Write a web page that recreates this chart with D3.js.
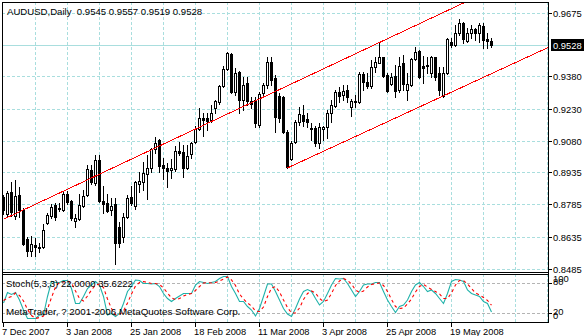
<!DOCTYPE html>
<html><head><meta charset="utf-8">
<script src="https://cdn.jsdelivr.net/npm/d3@7/dist/d3.min.js"></script>
<style>
html,body{margin:0;padding:0;background:#fff;}
svg{display:block;}
text{font-family:"Liberation Sans",Arial,sans-serif;fill:#000;white-space:pre;}
</style></head><body><svg id="c" width="584" height="336"></svg>
<script>
// ---- data ----
const symbolTitle = "AUDUSD,Daily  0.9545 0.9557 0.9519 0.9528";
const stochTitle = "Stoch(5,3,3) 22.0000 35.6222";
const copyright = "MetaTrader, ? 2001-2006 MetaQuotes Software Corp.";

const openP = [.8820,.8741,.8843,.8731,.8829,.8759,.8624,.8569,.8596,.8582,.8587,.8699,.8731,.8782,.8769,.8759,.8834,.8801,.8708,.8717,
.8778,.8829,.8945,.8885,.8992,.8801,.8792,.8759,.8787,.8680,.8634,.8727,.8820,.8778,.8880,.8889,.8927,.8955,.9043,.9085,
.8969,.8955,.8945,.8950,.9034,.9029,.8955,.9020,.9075,.9136,.9187,.9187,.9178,.9234,.9262,.9336,.9415,.9485,.9308,.9401,
.9271,.9350,.9266,.9271,.9155,.9303,.9341,.9448,.9373,.9289,.9285,.9122,.8996,.9075,.9168,.9201,.9182,.9141,.9141,.9071,
.9136,.9145,.9210,.9243,.9308,.9294,.9317,.9238,.9266,.9262,.9392,.9355,.9336,.9424,.9443,.9471,.9387,.9345,.9382,.9317,
.9443,.9317,.9341,.9462,.9499,.9429,.9429,.9396,.9471,.9396,.9289,.9396,.9541,.9527,.9582,.9629,.9545,.9582,.9601,.9582,
.9615,.9555,.9545];
const highP = [.8829,.8848,.8889,.8899,.8866,.8769,.8634,.8638,.8629,.8606,.8694,.8745,.8787,.8792,.8792,.8848,.8848,.8806,.8741,.8834,
.8852,.8969,.8969,.9015,.9015,.8871,.8834,.8815,.8815,.8703,.8745,.8829,.8871,.8894,.8936,.8982,.9015,.9048,.9099,.9089,
.9001,.8978,.8996,.9057,.9075,.9062,.9062,.9075,.9150,.9234,.9210,.9210,.9248,.9271,.9341,.9429,.9494,.9489,.9420,.9406,
.9378,.9378,.9285,.9285,.9308,.9350,.9471,.9471,.9387,.9303,.9289,.9131,.9080,.9178,.9238,.9248,.9210,.9164,.9150,.9164,
.9150,.9224,.9271,.9317,.9331,.9341,.9341,.9275,.9294,.9401,.9401,.9396,.9457,.9471,.9538,.9471,.9396,.9396,.9434,.9471,
.9480,.9396,.9466,.9517,.9503,.9475,.9471,.9475,.9471,.9424,.9424,.9559,.9559,.9620,.9648,.9634,.9606,.9620,.9606,.9629,
.9629,.9582,.9557];
const lowP = [.8741,.8727,.8731,.8717,.8727,.8596,.8545,.8545,.8545,.8564,.8582,.8694,.8722,.8713,.8755,.8755,.8787,.8713,.8680,.8713,
.8773,.8824,.8880,.8876,.8796,.8745,.8750,.8736,.8508,.8587,.8610,.8722,.8782,.8764,.8843,.8852,.8810,.8936,.9024,.8936,
.8903,.8866,.8908,.8941,.9015,.8913,.8950,.9001,.9071,.9131,.9103,.9131,.9168,.9210,.9252,.9331,.9410,.9303,.9294,.9210,
.9224,.9248,.9234,.9145,.9145,.9294,.9327,.9341,.9122,.9168,.9117,.8955,.8992,.9071,.9155,.9150,.9145,.9085,.9057,.9048,
.9085,.9094,.9168,.9238,.9262,.9271,.9262,.9196,.9238,.9257,.9317,.9327,.9327,.9401,.9443,.9378,.9308,.9341,.9285,.9308,
.9317,.9271,.9336,.9457,.9373,.9350,.9396,.9378,.9364,.9294,.9285,.9392,.9517,.9522,.9573,.9536,.9541,.9559,.9550,.9541,
.9513,.9513,.9519];
const closeP = [.8759,.8838,.8750,.8824,.8759,.8601,.8569,.8601,.8587,.8587,.8666,.8736,.8773,.8727,.8764,.8834,.8796,.8722,.8722,.8782,
.8824,.8950,.8889,.8992,.8801,.8787,.8755,.8778,.8606,.8606,.8727,.8815,.8792,.8889,.8894,.8931,.8955,.9043,.9071,.8964,
.8955,.8941,.8955,.9034,.9024,.8955,.9010,.9071,.9136,.9187,.9178,.9173,.9210,.9266,.9336,.9415,.9489,.9308,.9396,.9271,
.9341,.9266,.9252,.9164,.9299,.9341,.9448,.9364,.9192,.9187,.9122,.8959,.9071,.9168,.9206,.9173,.9168,.9136,.9071,.9145,
.9145,.9210,.9248,.9308,.9289,.9313,.9285,.9266,.9262,.9392,.9355,.9336,.9424,.9448,.9471,.9382,.9313,.9378,.9313,.9429,
.9345,.9345,.9462,.9494,.9378,.9420,.9434,.9471,.9378,.9317,.9396,.9555,.9527,.9582,.9629,.9555,.9582,.9601,.9582,.9620,
.9550,.9545,.9528];

const stochK = [40,61,57,61,46,26,9,9,9,16,16,53,83,81,81,85,85,69,39,39,
53,69,76,83,76,53,16,19,13,19,39,63,73,86,85,79,79,78,79,73,
59,49,43,49,54,59,59,59,76,83,81,79,81,83,89,93,93,73,59,43,
43,33,26,14,29,53,78,78,63,46,29,18,13,29,48,63,67,63,49,36,
43,59,76,89,88,89,79,66,53,63,76,78,78,81,81,63,46,33,21,33,
36,46,63,76,81,73,63,66,59,49,39,59,83,87,86,83,66,59,56,53,
43,39,22];
const stochD = [45,50,53,60,55,44,27,15,9,11,14,28,51,72,82,82,84,80,64,49,
44,54,66,76,78,71,48,29,16,17,24,40,58,74,81,83,81,79,79,77,
70,60,50,47,49,54,57,59,65,73,80,81,80,81,84,88,92,86,75,58,
48,40,34,24,23,32,53,70,73,62,46,31,20,20,30,47,59,64,60,49,
43,46,59,75,84,89,85,78,66,61,64,72,77,79,80,75,63,47,33,29,
30,38,48,62,73,77,72,67,63,58,49,49,60,76,85,85,78,69,60,56,
51,45,35.6];

const priceTicks = [0.9675,0.9380,0.9230,0.9080,0.8935,0.8785,0.8635,0.8485];
const priceLabels = ["0.9675","0.9380","0.9230","0.9080","0.8935","0.8785","0.8635","0.8485"];
const bidPrice = 0.9528, bidLabel = "0.9528";
const dateIdx = [0,16,32,48,64,80,96,112];
const dateLabels = ["7 Dec 2007","3 Jan 2008","25 Jan 2008","18 Feb 2008","11 Mar 2008","3 Apr 2008","25 Apr 2008","19 May 2008"];
const stochLevels = [100,80,20,0];
const stochLevelLabels = ["100","80","20","0"];
const dashedLevels = [80,20];
const upperTrend = [[0,0.8716],[94,0.9538]];
const lowerTrend = [[71,0.8955],[110,0.9290]];

// ---- drawing ----
const svg = d3.select("#c");
const L=2, R=548, T=2, MB=272, ST=274, SB=322;
const x = d3.scaleLinear().domain([0,136]).range([3,547]);
const y = d3.scaleLinear().domain([0.8485,0.9675]).range([269,13]);
const ys = d3.scaleLinear().domain([0,100]).range([323,273]);
const gridCol = "#a9dede";

const defs = svg.append("defs");
defs.append("clipPath").attr("id","cm").append("rect").attr("x",L+1).attr("y",T+1).attr("width",R-L-1).attr("height",MB-T-1);
defs.append("clipPath").attr("id","cs").append("rect").attr("x",L+1).attr("y",ST+1).attr("width",R-L-1).attr("height",SB-ST-1);

const gMain = svg.append("g").attr("clip-path","url(#cm)");
const gSub = svg.append("g").attr("clip-path","url(#cs)");

// vertical grid
const vIdx = d3.range(8,137,8);
[gMain,gSub].forEach((g,k)=>{
  g.selectAll("line.vg").data(vIdx).join("line").attr("class","vg")
   .attr("x1",d=>Math.round(x(d))+0.5).attr("x2",d=>Math.round(x(d))+0.5)
   .attr("y1",k?ST:T).attr("y2",k?SB:MB)
   .attr("stroke",gridCol).attr("stroke-dasharray","3,2").attr("shape-rendering","crispEdges");
});
// horizontal grid
gMain.selectAll("line.hg").data(priceTicks).join("line").attr("class","hg")
  .attr("x1",L).attr("x2",R).attr("y1",d=>Math.round(y(d))+0.5).attr("y2",d=>Math.round(y(d))+0.5)
  .attr("stroke",gridCol).attr("stroke-dasharray","3,2").attr("shape-rendering","crispEdges");
// bid line
gMain.append("line").attr("x1",L).attr("x2",R)
  .attr("y1",Math.round(y(bidPrice))+0.5).attr("y2",Math.round(y(bidPrice))+0.5)
  .attr("stroke",gridCol).attr("shape-rendering","crispEdges");

// candles
const bars = openP.map((o,i)=>({i,o,h:highP[i],l:lowP[i],c:closeP[i]}));
const cg = gMain.append("g").attr("shape-rendering","crispEdges");
bars.forEach(b=>{
  const cx = Math.round(x(b.i));
  const yh = Math.round(y(b.h)), yl = Math.round(y(b.l));
  const yo = Math.round(y(b.o)), yc = Math.round(y(b.c));
  const top = Math.min(yo,yc), bot = Math.max(yo,yc);
  cg.append("rect").attr("x",cx).attr("y",yh).attr("width",1).attr("height",Math.max(1,yl-yh+1)).attr("fill","#000");
  cg.append("rect").attr("x",cx-1).attr("y",top).attr("width",3).attr("height",bot-top+1).attr("fill","#000");
  if (b.c > b.o && bot-top >= 2) {
    cg.append("rect").attr("x",cx).attr("y",top+1).attr("width",1).attr("height",bot-top-1).attr("fill","#fff");
  }
});

// trend lines
function trendAt(a,i){ return a[0][1] + (a[1][1]-a[0][1])*(i-a[0][0])/(a[1][0]-a[0][0]); }
[[upperTrend,0,137],[lowerTrend,71,136.3]].forEach(([a,i0,i1])=>{
  gMain.append("line").attr("x1",x(i0)+0.5).attr("y1",y(trendAt(a,i0))).attr("x2",x(i1)+0.5).attr("y2",y(trendAt(a,i1)))
    .attr("stroke","#ff0000").attr("stroke-width",1).attr("shape-rendering","crispEdges");
});

// stochastic
gSub.selectAll("line.lv").data(dashedLevels).join("line").attr("class","lv")
  .attr("x1",L).attr("x2",R).attr("y1",d=>Math.round(ys(d))+0.5).attr("y2",d=>Math.round(ys(d))+0.5)
  .attr("stroke","#b4b4b4").attr("stroke-dasharray","3,2").attr("shape-rendering","crispEdges");
const sline = d3.line().x((d,i)=>x(i)+0.5).y(d=>ys(d));
gSub.append("path").attr("d",sline(stochK)).attr("fill","none").attr("stroke","#20b2aa").attr("stroke-width",1.1);
gSub.append("path").attr("d",sline(stochD)).attr("fill","none").attr("stroke","#ff0000").attr("stroke-width",1.1).attr("stroke-dasharray","3,3");

// frames
const fr = svg.append("g").attr("stroke","#000").attr("shape-rendering","crispEdges");
fr.append("line").attr("x1",L+0.5).attr("x2",L+0.5).attr("y1",T).attr("y2",SB+1);
fr.append("line").attr("x1",R+0.5).attr("x2",R+0.5).attr("y1",T).attr("y2",SB+1);
[T,MB,ST,SB].forEach(v=>fr.append("line").attr("x1",L).attr("x2",R+1).attr("y1",v+0.5).attr("y2",v+0.5));

// price axis
const pa = svg.append("g");
pa.selectAll("line").data(priceTicks).join("line")
  .attr("x1",R).attr("x2",R+4).attr("y1",d=>Math.round(y(d))+0.5).attr("y2",d=>Math.round(y(d))+0.5)
  .attr("stroke","#000").attr("shape-rendering","crispEdges");
pa.selectAll("text").data(priceTicks).join("text")
  .attr("x",553).attr("y",d=>Math.round(y(d))+0.5).attr("dy","0.35em")
  .style("font-size","9.4px").text((d,i)=>priceLabels[i]);
const by = Math.round(y(bidPrice));
pa.append("rect").attr("x",551).attr("y",by-6).attr("width",33).attr("height",12).attr("fill","#000");
pa.append("text").attr("x",553).attr("y",by+0.5).attr("dy","0.35em").style("font-size","9.4px").style("fill","#fff").text(bidLabel);

// stoch axis labels
svg.selectAll("text.sl").data(stochLevels).join("text").attr("class","sl")
  .attr("x",553).attr("y",d=>Math.max(279,Math.min(316,ys(d)-1.5))).attr("dy","0.35em")
  .style("font-size","9.4px").text((d,i)=>stochLevelLabels[i]);
svg.selectAll("line.st").data(dashedLevels).join("line").attr("class","st")
  .attr("x1",R).attr("x2",R+4).attr("y1",d=>Math.round(ys(d))+0.5).attr("y2",d=>Math.round(ys(d))+0.5)
  .attr("stroke","#000").attr("shape-rendering","crispEdges");

// date axis
svg.selectAll("line.dt").data(dateIdx).join("line").attr("class","dt")
  .attr("x1",d=>Math.round(x(d))+0.5).attr("x2",d=>Math.round(x(d))+0.5).attr("y1",SB).attr("y2",SB+5)
  .attr("stroke","#000").attr("shape-rendering","crispEdges");
svg.selectAll("text.dl").data(dateIdx).join("text").attr("class","dl")
  .attr("x",d=>Math.round(x(d))-1).attr("y",335)
  .style("font-size","9.3px").text((d,i)=>dateLabels[i]);

// titles
svg.append("text").attr("x",7).attr("y",15).style("font-size","9.6px").text(symbolTitle);
svg.append("text").attr("x",6).attr("y",287).style("font-size","9.6px").text(stochTitle);
svg.append("text").attr("x",6).attr("y",315).style("font-size","9.8px").text(copyright);
</script></body></html>
